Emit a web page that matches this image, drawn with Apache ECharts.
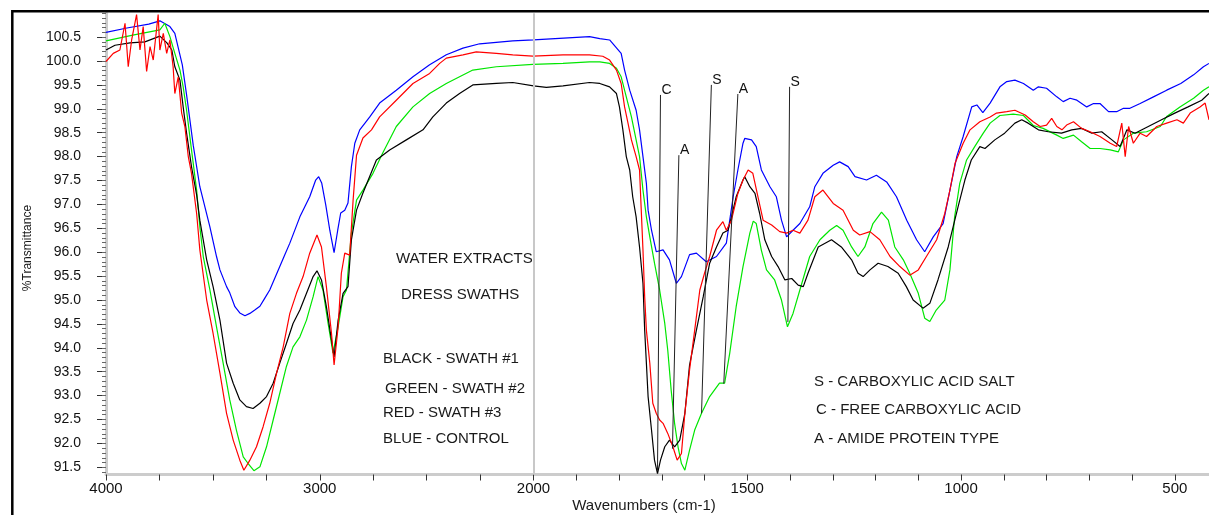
<!DOCTYPE html>
<html>
<head>
<meta charset="utf-8">
<title>Water extracts - dress swaths</title>
<script src="https://cdn.jsdelivr.net/npm/echarts@6/dist/echarts.min.js"></script>
<style>
  html, body { margin: 0; padding: 0; background: #fff; }
  #chart { width: 1209px; height: 515px; }
</style>
</head>
<body>
<div id="chart"></div>
<script>
// wavenumbers (cm-1) and %T, one pair of arrays per spectrum
const blackWn = [4000,3958,3888,3818,3748,3715,3692,3678,3654,3639,3623,3600,3576,3561,3529,3499,3467,3436,3405,3374,3343,3312,3280,3249,3218,3187,3156,3125,3093,3062,3031,3013,2992,2969,2945,2933,2914,2891,2868,2852,2828,2798,2735,2673,2595,2517,2471,2408,2346,2284,2174,2097,2000,
  1970,1931,1869,1845,1822,1806,1799,1791,1783,1775,1768,1760,1752,1744,1740,1736,1732,1724,1717,1710,1703,1693,1682,1670,1658,1646,1635,1619,1603,1588,1572,1557,1545,1537,1526,1510,1506,1494,1482,1471,1459,1443,1428,1412,1396,1381,1369,1358,1334,1303,1280,1256,1241,1229,1213,1194,1171,1147,1128,1112,1089,1073,1054,1030,1007,991,976,956,944,921,898,874,858,843,819,796,765,741,718,694,671,647,628,612,593,562,531,500,469,437,420];
const blackT = [100.23,100.33,100.38,100.40,100.52,100.38,100.23,99.88,99.60,99.04,98.49,97.79,97.20,96.67,95.84,95.28,94.58,93.68,93.26,92.91,92.77,92.73,92.84,92.98,93.26,93.68,94.09,94.51,94.79,95.14,95.49,95.61,95.42,94.86,94.16,93.81,94.58,95.14,95.28,96.26,96.88,97.24,97.93,98.14,98.35,98.56,98.83,99.12,99.32,99.50,99.53,99.55,99.48,
  99.45,99.48,99.55,99.53,99.46,99.32,99.04,98.56,98.00,97.72,97.16,96.74,96.11,95.35,94.37,93.68,92.98,92.28,91.65,91.37,91.65,91.93,92.07,91.93,92.07,92.63,93.64,94.37,95.07,95.77,96.11,96.40,96.46,96.74,97.16,97.51,97.58,97.37,97.23,96.81,96.26,95.91,95.70,95.42,95.45,95.31,95.28,95.56,96.11,96.26,96.11,95.84,95.56,95.49,95.63,95.77,95.70,95.56,95.28,95.00,94.83,94.93,95.42,96.11,96.95,97.51,97.93,98.21,98.17,98.35,98.49,98.70,98.77,98.70,98.56,98.52,98.49,98.56,98.59,98.49,98.52,98.35,98.21,98.56,98.49,98.63,98.77,98.91,99.04,99.18,99.32];

const greenWn = [4000,3875,3748,3725,3701,3678,3654,3639,3623,3600,3576,3561,3545,3514,3483,3452,3421,3390,3358,3335,3308,3280,3249,3218,3187,3156,3125,3093,3062,3031,3008,2985,2961,2938,2914,2891,2875,2852,2828,2798,2751,2706,2642,2564,2486,2408,2346,2284,2174,2003,
  1931,1869,1845,1822,1806,1795,1783,1771,1760,1752,1744,1736,1728,1717,1705,1693,1686,1678,1670,1662,1654,1646,1635,1623,1607,1588,1565,1553,1541,1526,1510,1494,1486,1479,1467,1455,1436,1420,1406,1393,1377,1354,1330,1307,1291,1276,1256,1241,1225,1206,1186,1170,1155,1135,1120,1100,1085,1073,1058,1038,1026,1015,1003,987,968,948,932,909,878,854,831,808,776,761,737,718,698,675,651,632,620,597,566,534,519,488,456,433,420];
const greenT = [100.42,100.54,100.65,100.79,100.51,100.16,99.81,99.46,98.97,98.14,97.30,96.53,95.91,95.21,94.44,93.68,92.91,92.28,91.72,91.58,91.43,91.51,91.93,92.49,93.05,93.61,94.02,94.23,94.58,95.07,95.49,95.21,94.51,93.89,94.44,95.07,95.21,96.40,97.09,97.30,97.65,98.07,98.63,99.04,99.32,99.53,99.67,99.81,99.88,99.93,
  99.95,99.98,99.98,99.95,99.85,99.67,99.25,98.83,98.35,98.00,97.30,96.74,96.32,95.77,95.21,94.51,93.95,93.11,92.42,91.93,91.58,91.44,91.86,92.28,92.63,92.98,93.26,93.26,93.89,94.86,95.70,96.40,96.65,96.60,96.04,95.63,95.42,95.00,94.44,94.72,95.21,95.91,96.26,96.46,96.56,96.46,96.11,95.91,96.11,96.60,96.84,96.67,96.11,95.84,95.56,95.14,94.62,94.55,94.79,95.00,95.63,96.74,97.44,97.93,98.21,98.49,98.70,98.86,98.89,98.86,98.65,98.59,98.45,98.38,98.45,98.31,98.17,98.17,98.14,98.10,98.35,98.49,98.52,98.63,98.84,99.04,99.22,99.39,99.46];

const redWn = [4000,3966,3935,3911,3896,3880,3857,3841,3826,3810,3794,3779,3756,3748,3732,3716,3701,3686,3678,3662,3646,3631,3615,3600,3576,3561,3529,3499,3467,3436,3405,3374,3355,3327,3296,3265,3234,3202,3171,3140,3109,3078,3047,3013,2992,2969,2945,2933,2914,2899,2883,2860,2844,2828,2798,2758,2720,2642,2564,2486,2439,2408,2330,2268,2174,2097,2003,
  1931,1869,1838,1822,1806,1795,1787,1779,1771,1760,1752,1748,1744,1740,1736,1728,1721,1713,1705,1697,1686,1674,1664,1654,1646,1635,1623,1611,1600,1588,1572,1557,1549,1537,1522,1510,1498,1487,1475,1463,1443,1424,1408,1393,1377,1358,1342,1323,1299,1276,1252,1237,1213,1190,1166,1143,1120,1100,1081,1057,1038,1026,1014,995,979,956,932,917,893,874,850,831,815,800,788,776,764,753,737,718,698,675,651,636,624,616,608,597,581,566,542,519,495,480,464,441,429,420];
const redT = [99.99,100.16,100.23,100.79,99.88,100.44,100.97,100.23,100.72,99.78,100.30,100.02,100.97,100.23,100.58,100.16,100.44,99.88,99.32,99.67,98.91,98.63,98.00,97.65,96.81,96.05,95.00,94.30,93.47,92.63,92.07,91.65,91.44,91.65,91.93,92.35,92.84,93.47,94.02,94.72,95.14,95.49,95.98,96.36,96.11,95.28,94.30,93.64,94.44,95.56,95.98,95.94,97.09,98.03,98.39,98.56,98.83,99.18,99.53,99.74,99.95,100.06,100.13,100.19,100.16,100.13,100.10,
  100.13,100.13,100.10,100.02,99.81,99.53,99.04,98.70,98.35,98.00,97.72,96.88,96.05,95.07,94.37,93.68,92.84,92.63,92.49,92.42,92.21,91.93,91.65,91.79,92.63,93.54,94.37,95.21,95.56,95.91,96.46,96.64,96.46,96.67,97.23,97.51,97.72,97.65,97.16,96.67,96.57,96.43,96.40,96.46,96.40,96.67,97.16,97.30,97.02,96.88,96.46,96.36,96.43,96.26,95.91,95.70,95.52,95.63,95.91,96.26,96.81,97.30,97.86,98.28,98.56,98.73,98.83,98.91,98.94,98.97,98.87,98.73,98.63,98.66,98.80,98.63,98.56,98.66,98.73,98.59,98.52,98.42,98.28,98.21,98.70,98.00,98.63,98.28,98.49,98.42,98.63,98.70,98.77,98.70,98.91,99.04,99.12,98.77];

const blueWn = [4000,3902,3800,3748,3701,3678,3643,3623,3592,3561,3514,3483,3467,3436,3421,3397,3374,3350,3327,3304,3280,3257,3234,3210,3187,3164,3140,3093,3047,3019,3005,2991,2972,2953,2933,2916,2902,2883,2868,2852,2836,2813,2766,2720,2642,2564,2486,2408,2330,2252,2097,2000,
  1869,1845,1822,1795,1787,1775,1760,1752,1744,1736,1732,1724,1713,1697,1682,1666,1654,1635,1619,1596,1572,1549,1541,1533,1522,1510,1506,1490,1479,1467,1447,1432,1420,1408,1393,1377,1354,1342,1323,1299,1284,1264,1248,1221,1198,1174,1151,1127,1104,1085,1065,1042,1026,1010,995,975,963,949,932,909,893,874,854,831,819,800,776,761,745,729,706,690,675,655,636,620,605,581,550,519,486,456,433,420];
const blueT = [100.60,100.69,100.77,100.84,100.72,100.58,99.92,99.29,98.24,97.37,96.53,95.91,95.63,95.28,95.15,94.86,94.73,94.67,94.72,94.79,94.87,95.04,95.21,95.46,95.70,95.94,96.19,96.74,97.16,97.51,97.58,97.45,96.99,96.46,95.99,96.46,96.82,96.88,97.03,97.79,98.28,98.56,98.83,99.12,99.39,99.67,99.92,100.13,100.27,100.36,100.42,100.44,
  100.51,100.47,100.44,100.16,99.81,99.39,98.97,98.56,98.00,97.44,96.88,96.46,96.01,96.05,95.84,95.35,95.49,95.95,95.98,95.80,95.91,96.19,96.67,97.16,97.72,98.28,98.38,98.35,98.21,97.72,97.37,97.16,96.67,96.32,96.46,96.60,96.95,97.37,97.65,97.82,97.89,97.79,97.58,97.51,97.61,97.47,97.16,96.67,96.26,96.01,96.32,96.60,97.30,98.00,98.42,99.04,99.08,98.92,99.12,99.46,99.57,99.60,99.53,99.39,99.46,99.43,99.25,99.15,99.22,99.18,99.04,99.11,99.11,98.94,98.94,99.01,99.01,99.11,99.25,99.39,99.53,99.71,99.88,99.95];

// axis ticks and labels
const xLabelValues = [4000, 3000, 2000, 1500, 1000, 500];
const xTickValues = [4000,3750,3500,3250,3000,2750,2500,2250,2000,1900,1800,1700,1600,1500,1400,1300,1200,1100,1000,900,800,700,600,500];
const yLabelValues = [91.5,92.0,92.5,93.0,93.5,94.0,94.5,95.0,95.5,96.0,96.5,97.0,97.5,98.0,98.5,99.0,99.5,100.0,100.5];

// band assignment marks: letter, top of the pointer line, end of the pointer line
const annotLetters = ['C', 'A', 'S', 'A', 'S'];
const annotTopWn = [1703, 1660, 1584, 1522, 1401];
const annotTopT = [99.29, 98.03, 99.50, 99.31, 99.46];
const annotEndWn = [1710, 1675, 1607, 1555, 1405];
const annotEndT = [91.43, 91.89, 92.63, 93.25, 94.54];

const noteLines = ['WATER EXTRACTS', 'DRESS SWATHS', 'BLACK - SWATH #1', 'GREEN - SWATH #2', 'RED - SWATH #3', 'BLUE - CONTROL'];
const keyLines = ['S - CARBOXYLIC ACID SALT', 'C - FREE CARBOXYLIC ACID', 'A - AMIDE PROTEIN TYPE'];

const Y_MIN = 91.35, Y_MAX = 101.0, WN_END = 420;
const FONT = '"Liberation Sans", Arial, sans-serif';

// the scan is drawn at half scale above 2000 cm-1
const toU = (w) => (w >= 2000 ? (4000 - w) / 2 : 1000 + (2000 - w));
const fromU = (u) => (u <= 1000 ? 4000 - 2 * u : 2000 - (u - 1000));
const pairs = (wn, t) => wn.map((w, i) => [toU(w), t[i]]);

const minorTicks = [];
for (let k = 914; k <= 1010; k++) minorTicks.push(k / 10);

const chart = echarts.init(document.getElementById('chart'), null, { renderer: 'canvas' });

const textAt = (x, y, text, size, align) => ({
  type: 'text', x, y, silent: true,
  style: { text, fill: '#1a1a1a', font: size + 'px ' + FONT, align: align || 'left', verticalAlign: 'middle' },
});

chart.setOption({
  animation: false,
  backgroundColor: '#ffffff',
  grid: { left: 106, right: 0, top: 13.2, height: 461.3, containLabel: false },
  xAxis: {
    type: 'value',
    min: 0,
    max: toU(WN_END),
    splitLine: { show: false },
    axisLine: { lineStyle: { color: '#cccccc', width: 3 } },
    axisTick: { customValues: xTickValues.map(toU), length: 6, lineStyle: { color: '#333', width: 1 } },
    axisLabel: {
      customValues: xLabelValues.map(toU),
      formatter: (v) => String(Math.round(fromU(v))),
      margin: 7, color: '#111', fontSize: 15, fontFamily: FONT,
    },
  },
  yAxis: [
    {
      type: 'value', min: Y_MIN, max: Y_MAX, position: 'left',
      splitLine: { show: false },
      axisLine: { show: true, lineStyle: { color: '#cccccc', width: 3 } },
      axisTick: { customValues: yLabelValues, length: 9, lineStyle: { color: '#333', width: 1 } },
      axisLabel: {
        customValues: yLabelValues,
        formatter: (v) => v.toFixed(1),
        margin: 25, color: '#111', fontSize: 14, fontFamily: FONT,
      },
    },
    {
      type: 'value', min: Y_MIN, max: Y_MAX, position: 'left', offset: 0,
      splitLine: { show: false },
      axisLine: { show: false },
      axisTick: { customValues: minorTicks, length: 4, lineStyle: { color: '#666', width: 1 } },
      axisLabel: { show: false },
    },
  ],
  series: [
    { name: 'BLUE - CONTROL', color: '#0000ff', data: pairs(blueWn, blueT) },
    { name: 'GREEN - SWATH #2', color: '#00e600', data: pairs(greenWn, greenT) },
    {
      name: 'BLACK - SWATH #1', color: '#000000', data: pairs(blackWn, blackT),
      markLine: {
        silent: true,
        symbol: ['none', 'none'],
        label: { show: false },
        lineStyle: { type: 'solid', color: '#222', width: 1 },
        data: [
          [
            { coord: [toU(2000), Y_MAX], lineStyle: { color: '#c8c8c8', width: 2, type: 'solid' } },
            { coord: [toU(2000), Y_MIN] },
          ],
        ].concat(annotLetters.map((s, i) => [
          { coord: [toU(annotTopWn[i]), annotTopT[i]] },
          { coord: [toU(annotEndWn[i]), annotEndT[i]] },
        ])),
      },
      markPoint: {
        silent: true,
        symbol: 'circle',
        symbolSize: 0,
        label: {
          show: true, position: 'right', distance: 1, offset: [0, -5],
          formatter: '{b}', color: '#111', fontSize: 14, fontFamily: FONT,
        },
        data: annotLetters.map((s, i) => ({ name: s, coord: [toU(annotTopWn[i]), annotTopT[i]] })),
      },
    },
    { name: 'RED - SWATH #3', color: '#ff0000', data: pairs(redWn, redT) },
  ].map((s) => ({
    ...s,
    type: 'line',
    symbol: 'none',
    showSymbol: false,
    lineStyle: { width: 1.2, color: s.color },
  })),
  graphic: [
    textAt(396, 259, noteLines[0], 15),
    textAt(401, 295, noteLines[1], 15),
    textAt(383, 359, noteLines[2], 15),
    textAt(385, 389, noteLines[3], 15),
    textAt(383, 413, noteLines[4], 15),
    textAt(383, 439, noteLines[5], 15),
    textAt(814, 382, keyLines[0], 15),
    textAt(816, 410, keyLines[1], 15),
    textAt(814, 439, keyLines[2], 15),
    textAt(644, 506, 'Wavenumbers (cm-1)', 15, 'center'),
    {
      type: 'text', x: 27.5, y: 248, rotation: Math.PI / 2, silent: true,
      style: { text: '%Transmittance', fill: '#1a1a1a', font: '12px ' + FONT, align: 'center', verticalAlign: 'middle' },
    },
    {
      type: 'rect', silent: true, z: 100,
      shape: { x: 12.3, y: 11.2, width: 1400, height: 700 },
      style: { fill: 'none', stroke: '#000', lineWidth: 2.5 },
    },
  ],
});
</script>
</body>
</html>
